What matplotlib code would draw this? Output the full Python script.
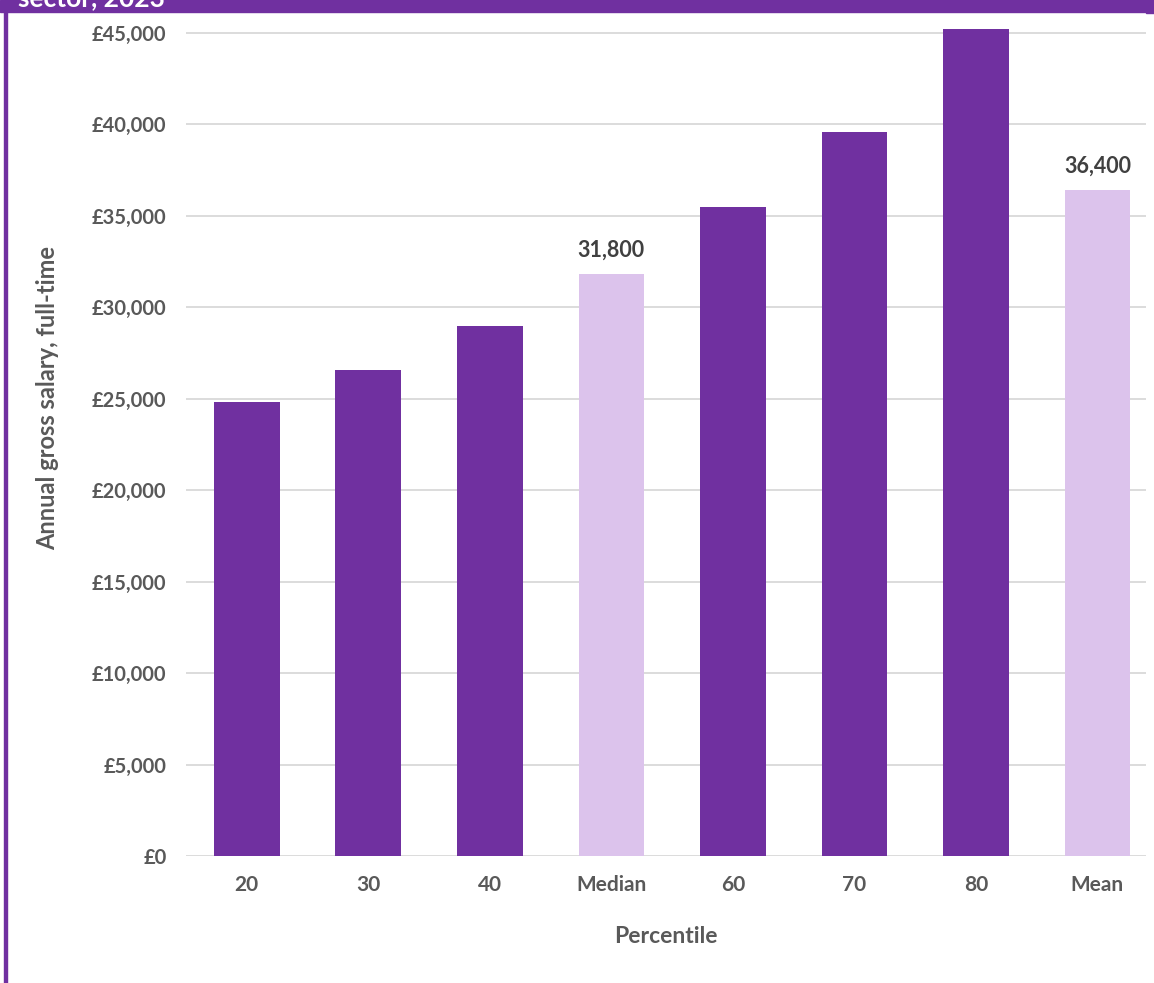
import matplotlib
matplotlib.use("Agg")
import matplotlib.pyplot as plt
from matplotlib.patches import Rectangle
from matplotlib.ticker import FuncFormatter, MultipleLocator

# annual gross full-time salary by percentile
categories = ["20", "30", "40", "Median", "60", "70", "80", "Mean"]
salaries = [24800, 26600, 29000, 31800, 35500, 39600, 45200, 36400]
highlight = ["Median", "Mean"]

PURPLE = "#7030A0"
LILAC = "#DCC3EC"
GREY = "#595959"

plt.rcParams["font.family"] = ["Lato", "DejaVu Sans"]

fig = plt.figure(figsize=(11.54, 9.83), dpi=100)
W, H = 1154, 983
ax = fig.add_axes([186 / W, 1 - 856 / H, (1146 - 186) / W, (856 - 22) / H])

x = list(range(len(categories)))
colors = [LILAC if c in highlight else PURPLE for c in categories]
ax.bar(x, salaries, width=0.54, color=colors, zorder=3)

for xi, c, v in zip(x, categories, salaries):
    if c in highlight:
        ax.text(xi, v + 750, f"{v:,}", ha="center", va="bottom",
                fontsize=15.5, fontweight="bold", color="#404040")

ax.set_xlim(-0.5, 7.4)
ax.set_ylim(0, 45600)
ax.yaxis.set_major_locator(MultipleLocator(5000))
ax.yaxis.set_major_formatter(FuncFormatter(lambda v, _: f"£{v:,.0f}"))
ax.set_xticks(x)
ax.set_xticklabels(categories)
ax.grid(axis="y", color="#D9D9D9", lw=1.3, zorder=0)
for s in ax.spines.values():
    s.set_visible(False)
ax.tick_params(length=0, labelcolor=GREY)
ax.tick_params(axis="y", pad=14, labelsize=14.5)
ax.tick_params(axis="x", pad=14, labelsize=15)
for lab in ax.get_xticklabels() + ax.get_yticklabels():
    lab.set_fontweight("bold")

ax.set_xlabel("Percentile", fontsize=16.5, fontweight="bold", color=GREY, labelpad=22)
fig.text(48 / W, 1 - 398 / H, "Annual gross salary, full-time", rotation=90,
         ha="center", va="center", fontsize=17, fontweight="bold", color=GREY)

# header band and frame
fig.patches.append(Rectangle((0, 1 - 12 / H), 1, 12 / H, transform=fig.transFigure,
                             color=PURPLE, zorder=5))
fig.patches.append(Rectangle((4 / W, 0), 2.5 / W, 1, transform=fig.transFigure,
                             color=PURPLE, zorder=5))
fig.patches.append(Rectangle((1146 / W, 1 - 13 / H), 8 / W, 13 / H,
                             transform=fig.transFigure, color=PURPLE, zorder=5))
fig.text(18 / W, 1 - 6 / H, "sector, 2023", ha="left", va="baseline",
         fontsize=19, fontweight="bold", color="white", zorder=6)

fig.savefig("out.png", dpi=100)
